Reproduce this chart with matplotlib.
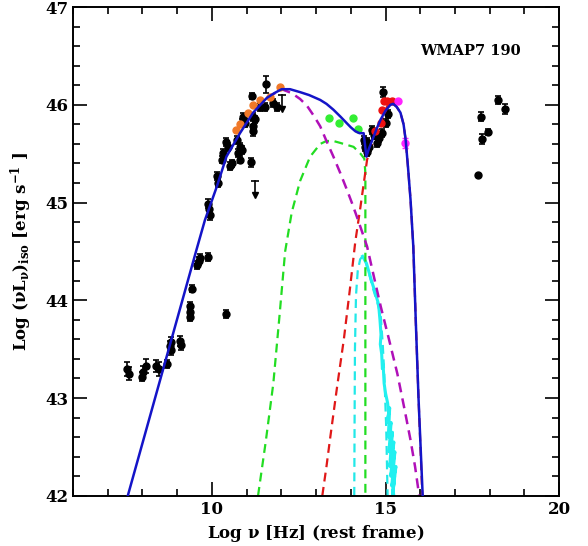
import numpy as np
import matplotlib.pyplot as plt
from matplotlib.ticker import MultipleLocator

plt.rcParams['font.family'] = ['DejaVu Serif']
plt.rcParams['font.weight'] = 'bold'
plt.rcParams['mathtext.fontset'] = 'dejavuserif'
plt.rcParams['mathtext.default'] = 'bf'

# model components (log nu, log nuL_nu)
tot_x = [7.58, 9.56, 9.80, 10.14, 10.42, 10.81, 11.19, 11.58, 11.80, 12.01, 12.25, 12.54,
         12.80, 13.12, 13.30, 13.50, 13.70, 13.89, 14.00, 14.13, 14.25, 14.37, 14.40, 14.45,
         14.52, 14.62, 14.75, 14.86, 15.00, 15.14, 15.22, 15.32, 15.43, 15.52, 15.58, 15.65,
         15.72, 15.80, 15.87, 15.95, 16.07]
tot_y = [42.0, 44.52, 44.82, 45.16, 45.47, 45.71, 45.92, 46.07, 46.12, 46.16, 46.16, 46.13,
         46.10, 46.05, 46.01, 45.95, 45.88, 45.81, 45.77, 45.73, 45.71, 45.71, 45.62, 45.47,
         45.55, 45.64, 45.76, 45.85, 45.94, 46.00, 46.01, 45.98, 45.92, 45.80, 45.64, 45.35,
         45.03, 44.55, 43.80, 43.0, 42.0]

syn_x = [11.58, 12.01, 12.30, 12.54, 12.74, 12.95, 13.12, 13.30, 13.50, 13.70, 13.89, 14.05,
         14.23, 14.47, 14.66, 14.86, 15.10, 15.34, 15.55, 15.72, 15.85, 15.97]
syn_y = [46.07, 46.16, 46.12, 46.06, 45.99, 45.88, 45.78, 45.63, 45.47, 45.30, 45.13, 44.98,
         44.80, 44.55, 44.25, 43.94, 43.60, 43.25, 42.88, 42.57, 42.30, 42.0]

torus_x = [11.33, 11.55, 11.77, 11.95, 12.11, 12.30, 12.54, 12.83, 13.12, 13.30, 13.50, 13.70,
           13.89, 14.08, 14.28, 14.39, 14.42, 14.42]
torus_y = [42.0, 42.55, 43.15, 43.85, 44.50, 44.90, 45.22, 45.47, 45.60, 45.63, 45.63, 45.61,
           45.59, 45.57, 45.50, 45.45, 45.30, 42.0]

disk_x = [13.18, 13.30, 13.41, 13.60, 13.80, 13.97, 14.13, 14.28, 14.47, 14.66, 14.86, 15.00,
          15.10, 15.22, 15.32, 15.43, 15.52, 15.58, 15.65, 15.72, 15.80, 15.87, 15.95, 16.06]
disk_y = [42.0, 42.3, 42.6, 43.1, 43.6, 44.1, 44.6, 44.96, 45.44, 45.64, 45.81, 45.95,
          46.02, 46.01, 45.98, 45.92, 45.80, 45.64, 45.35, 45.03, 44.55, 43.80, 43.0, 42.0]

host_x = [14.10, 14.11, 14.12, 14.15, 14.20, 14.27, 14.34, 14.42, 14.52, 14.64, 14.76, 14.86,
          14.92, 14.97, 15.02, 15.06]
host_y = [42.0, 42.8, 43.5, 44.05, 44.30, 44.42, 44.45, 44.40, 44.28, 44.12, 43.98, 43.85,
          43.55, 43.20, 42.70, 42.0]
noise_x = [14.34, 14.45, 14.58, 14.70, 14.80, 14.84, 14.87, 14.85, 14.89, 14.91, 14.93, 14.96,
           15.00, 15.06, 15.09, 15.05, 15.12, 15.08, 15.16, 15.10, 15.20, 15.12, 15.24, 15.15,
           15.27, 15.18, 15.30, 15.20, 15.26, 15.22, 15.24]
noise_y = [44.45, 44.38, 44.22, 44.08, 43.96, 43.80, 43.65, 43.55, 43.45, 43.30, 43.35, 43.15,
           43.05, 42.95, 42.85, 42.75, 42.90, 42.60, 42.75, 42.45, 42.65, 42.30, 42.55, 42.20,
           42.45, 42.10, 42.30, 42.00, 42.20, 42.05, 42.0]

# photometric data
bx = [7.55, 7.62, 8.00, 8.03, 8.09, 8.40, 8.48, 8.71, 8.79, 8.81, 8.83, 9.08, 9.10, 9.37,
      9.38, 9.37, 9.44, 9.56, 9.62, 9.65, 9.89, 9.89, 9.92, 9.94, 10.14, 10.18, 10.28, 10.33,
      10.40, 10.42, 10.47, 10.52, 10.57, 10.71, 10.76, 10.81, 10.81, 10.86, 10.86, 10.89,
      10.96, 11.12, 11.15, 11.19, 11.19, 11.19, 11.24, 11.39, 11.53, 11.56, 11.77, 11.88,
      14.37, 14.42, 14.47, 14.47, 14.52, 14.62, 14.66, 14.76, 14.81, 14.90, 14.93, 15.00,
      15.07, 17.65, 17.75, 17.77, 17.94, 18.25, 18.44]
by = [43.30, 43.25, 43.22, 43.27, 43.33, 43.33, 43.30, 43.35, 43.53, 43.57, 43.49, 43.58,
      43.54, 43.94, 43.83, 43.88, 44.12, 44.36, 44.40, 44.43, 44.44, 44.99, 44.93, 44.87,
      45.27, 45.20, 45.44, 45.51, 43.86, 45.62, 45.57, 45.37, 45.40, 45.64, 45.51, 45.57,
      45.44, 45.54, 45.81, 45.88, 45.81, 45.41, 46.09, 45.88, 45.78, 45.73, 45.85, 45.98,
      45.98, 46.21, 46.02, 45.98, 45.64, 45.57, 45.62, 45.52, 45.57, 45.74, 45.69, 45.61,
      45.66, 45.71, 46.13, 45.81, 45.91, 45.28, 45.88, 45.65, 45.72, 46.05, 45.96]
berr = [0.07, 0.07, 0.05, 0.06, 0.07, 0.06, 0.07, 0.04, 0.05, 0.05, 0.05, 0.05, 0.05, 0.04,
        0.04, 0.04, 0.04, 0.04, 0.04, 0.04, 0.04, 0.05, 0.05, 0.05, 0.04, 0.04, 0.04, 0.04,
        0.04, 0.04, 0.04, 0.04, 0.04, 0.04, 0.04, 0.04, 0.04, 0.04, 0.04, 0.04, 0.04, 0.05,
        0.03, 0.04, 0.05, 0.05, 0.04, 0.04, 0.04, 0.09, 0.04, 0.04, 0.04, 0.04, 0.04, 0.04,
        0.04, 0.04, 0.04, 0.04, 0.04, 0.04, 0.05, 0.04, 0.04, 0.0, 0.05, 0.05, 0.03, 0.04, 0.05]

ul_x = [11.24, 12.01]
ul_y = [45.22, 46.10]

orange_x = [10.69, 10.81, 11.05, 11.19, 11.39, 11.68, 11.97]
orange_y = [45.74, 45.80, 45.92, 46.00, 46.05, 46.08, 46.18]

green_x = [13.36, 13.65, 14.07, 14.20]
green_y = [45.87, 45.81, 45.87, 45.75]

red_x = [14.71, 14.86, 14.90, 14.97, 15.05, 15.19]
red_y = [45.73, 45.81, 45.95, 46.04, 46.04, 46.04]

mag_x = [15.37, 15.56]
mag_y = [46.04, 45.61]
mag_err = [0.0, 0.05]

fig = plt.figure(figsize=(5.88, 5.46), dpi=100)
ax = fig.add_axes([0.124, 0.092, 0.827, 0.895])

dash = (4, 2.5)
ax.plot(host_x, host_y, color='#22e8e8', lw=1.6, dashes=dash)
ax.plot(noise_x, noise_y, color='#22f0f0', lw=2.2)
ax.plot(torus_x, torus_y, color='#22dd22', lw=1.6, dashes=dash)
ax.plot(disk_x, disk_y, color='#e01818', lw=1.6, dashes=dash)
ax.plot(syn_x, syn_y, color='#b010b8', lw=1.8, dashes=dash)

ax.errorbar(bx, by, yerr=berr, fmt='o', color='black', ms=5, capsize=2.5,
            elinewidth=1.2, capthick=1.2, zorder=3)
for x, y in zip(ul_x, ul_y):
    ax.plot([x, x], [y, y - 0.14], color='black', lw=1.2, zorder=3)
    ax.plot([x], [y], marker='_', color='black', ms=6, mew=1.2, zorder=3)
    ax.plot([x], [y - 0.14], marker='v', color='black', ms=5, zorder=3)

ax.plot(orange_x, orange_y, 'o', color='#f07828', ms=5, zorder=4)
ax.plot(green_x, green_y, 'o', color='#33ee33', ms=5, zorder=4)
ax.plot(red_x, red_y, 'o', color='#ee1111', ms=5, zorder=4)
ax.errorbar(mag_x, mag_y, yerr=mag_err, fmt='o', color='#ff22ff', ms=5, capsize=2.5, zorder=4)

ax.plot(tot_x, tot_y, color='#1414c8', lw=1.8, zorder=5)

ax.text(16.0, 46.55, 'WMAP7 190', fontsize=10.5, fontweight='bold', va='center')

ax.set_xlim(6, 20)
ax.set_ylim(42, 47)
ax.xaxis.set_major_locator(MultipleLocator(5))
ax.xaxis.set_minor_locator(MultipleLocator(1))
ax.yaxis.set_major_locator(MultipleLocator(1))
ax.yaxis.set_minor_locator(MultipleLocator(0.2))
ax.tick_params(which='both', direction='in', top=True, right=True, width=1.2,
               labelsize=12)
ax.tick_params(which='major', length=10)
ax.tick_params(which='minor', length=5)
for s in ax.spines.values():
    s.set_linewidth(1.4)

ax.set_xlabel(r'Log $\nu$ [Hz] (rest frame)', fontsize=12, fontweight='bold', labelpad=4)
ax.set_ylabel(r'Log $(\nu L_\nu)_{\rm iso}$ [erg s$^{-1}$ ]', fontsize=12,
              fontweight='bold', labelpad=8)

fig.savefig('out.png', dpi=100)
